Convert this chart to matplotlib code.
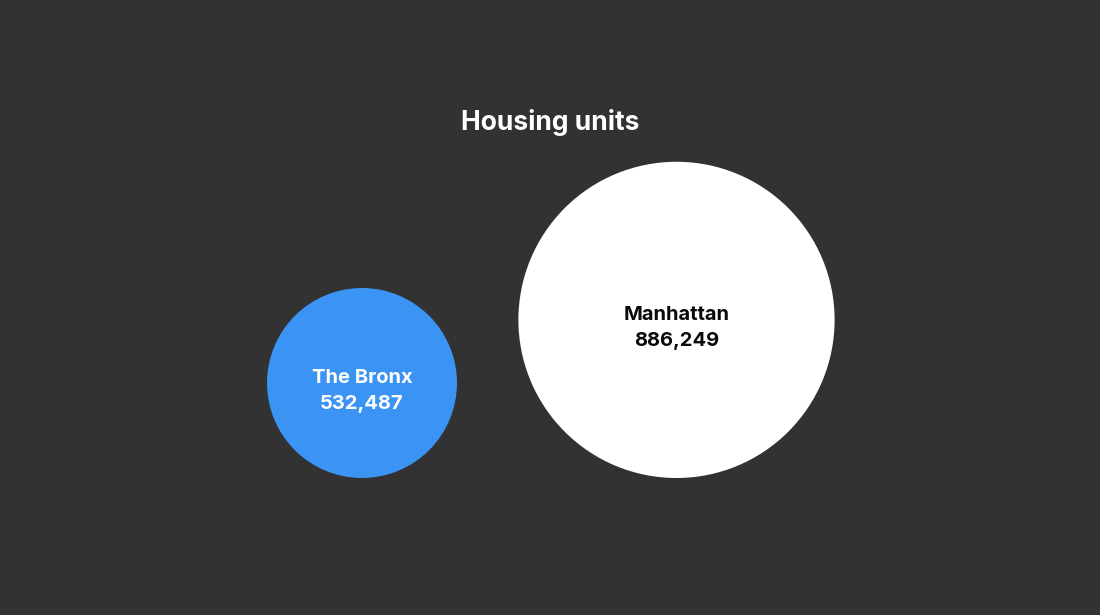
import matplotlib.pyplot as plt
from matplotlib.patches import Circle

title = "Housing units"
boroughs = ["The Bronx", "Manhattan"]
units = [532487, 886249]
colors = ["#3b93f3", "#ffffff"]
text_colors = ["#ffffff", "#0a0a0a"]

bg = "#323232"
px_per_unit = 95 / 532487   # radius scales with value
base_y = 478
centers_x = [362, 676.5]

fig = plt.figure(figsize=(11, 6.15), dpi=100, facecolor=bg)
ax = fig.add_axes([0, 0, 1, 1])
ax.set_facecolor(bg)
ax.set_xlim(0, 1100)
ax.set_ylim(615, 0)
ax.set_aspect("equal")
ax.axis("off")

plt.rcParams['font.family'] = ['Inter', 'DejaVu Sans']

for name, val, col, tcol, cx in zip(boroughs, units, colors, text_colors, centers_x):
    r = val * px_per_unit
    cy = base_y - r
    ax.add_patch(Circle((cx, cy), r, color=col, lw=0))
    ax.text(cx, cy - 5, name, ha="center", va="center", color=tcol,
            fontsize=14.5, fontweight="bold")
    ax.text(cx, cy + 21, f"{val:,}", ha="center", va="center", color=tcol,
            fontsize=14.5, fontweight="bold")

ax.text(550, 122, title, ha="center", va="center", color="white",
        fontsize=19, fontweight="bold")

fig.savefig("out.png", dpi=100, facecolor=bg)
